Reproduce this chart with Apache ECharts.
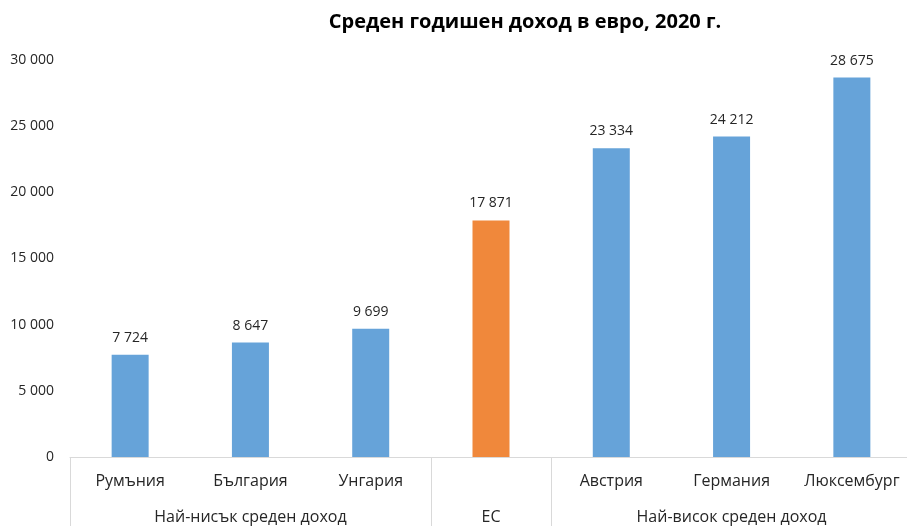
<!DOCTYPE html>
<html>
<head>
<meta charset="utf-8">
<script src="https://cdn.jsdelivr.net/npm/echarts@6/dist/echarts.min.js"></script>
<style>
  html, body { margin: 0; padding: 0; background: #fff; overflow: hidden; }
  #chart { width: 912px; height: 526px; }
</style>
</head>
<body>
<div id="chart"></div>
<script>
  // данни
  var countries = ['Румъния', 'България', 'Унгария', 'ЕС', 'Австрия', 'Германия', 'Люксембург'];
  var incomes = [7724, 8647, 9699, 17871, 23334, 24212, 28675];
  var groupLabels = ['', 'Най-нисък среден доход', '', 'ЕС', '', 'Най-висок среден доход', ''];
  var groupStarts = [0, 3, 4];
  var euIndex = 3;

  var blue = '#66a3d9';
  var orange = '#f0883b';
  var fontFamily = '"Open Sans", "Noto Sans", sans-serif';

  function spaced(v) {
    return String(v).replace(/\B(?=(\d{3})+(?!\d))/g, ' ');
  }

  var myChart = echarts.init(document.getElementById('chart'));
  var chartOption = {
    animation: false,
    textStyle: { fontFamily: fontFamily },
    title: {
      text: 'Среден годишен доход в евро, 2020 г.',
      left: 520,
      textAlign: 'center',
      top: 7,
      textStyle: {
        color: '#000',
        fontSize: 20,
        fontWeight: 'bold',
        fontFamily: fontFamily
      }
    },
    grid: {
      left: 70,
      right: 0,
      top: 60,
      bottom: 69
    },
    xAxis: [
      {
        type: 'category',
        data: countries,
        position: 'bottom',
        axisLine: { show: true, lineStyle: { color: '#d9d9d9', width: 1 } },
        axisTick: {
          show: true,
          length: 70,
          interval: function (index) { return groupStarts.indexOf(index) >= 0; },
          lineStyle: { color: '#d9d9d9', width: 1 }
        },
        axisLabel: {
          interval: 0,
          margin: 16,
          color: '#262626',
          fontSize: 16,
          formatter: function (v, i) { return i === euIndex ? '' : v; }
        }
      },
      {
        type: 'category',
        data: groupLabels,
        position: 'bottom',
        offset: 36,
        axisLine: { show: false },
        axisTick: { show: false },
        axisLabel: {
          interval: 0,
          margin: 16,
          color: '#262626',
          fontSize: 16
        }
      }
    ],
    yAxis: {
      type: 'value',
      min: 0,
      max: 30000,
      interval: 5000,
      axisLine: { show: false },
      axisTick: { show: false },
      splitLine: { show: false },
      axisLabel: {
        margin: 16,
        color: '#262626',
        fontSize: 14,
        formatter: function (v) { return spaced(v); }
      }
    },
    series: [
      {
        type: 'bar',
        xAxisIndex: 0,
        barWidth: 37,
        data: incomes.map(function (v, i) {
          return { value: v, itemStyle: { color: i === euIndex ? orange : blue } };
        }),
        label: {
          show: true,
          position: 'top',
          distance: 10,
          color: '#262626',
          fontSize: 14,
          formatter: function (p) { return spaced(p.value); }
        }
      }
    ]
  };
  myChart.setOption(chartOption);
</script>
</body>
</html>
